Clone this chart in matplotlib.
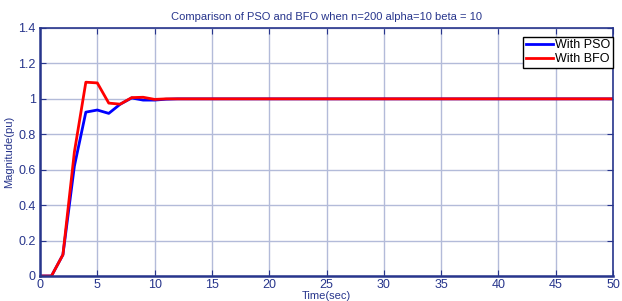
import matplotlib
matplotlib.use("Agg")
import matplotlib.pyplot as plt
import numpy as np

plt.rcParams['font.family'] = ['Liberation Sans', 'DejaVu Sans']

t = np.arange(0, 51)
pso_head = [0, 0, 0.12, 0.62, 0.925, 0.937, 0.918, 0.97, 1.005, 0.993, 0.993, 0.998]
bfo_head = [0, 0, 0.12, 0.70, 1.094, 1.090, 0.976, 0.970, 1.007, 1.009, 0.997, 1.0]
pso = pso_head + [1.0] * (len(t) - len(pso_head))
bfo = bfo_head + [1.0] * (len(t) - len(bfo_head))

axis_col = '#27358c'
grid_col = '#b3bbd9'

fig = plt.figure(figsize=(6.22, 3.01), dpi=100)
ax = fig.add_axes([40 / 622, 25 / 301, 573 / 622, 248 / 301])

ax.plot(t, pso, color='#0000ff', linewidth=2.0, label='With PSO')
ax.plot(t, bfo, color='#ff0000', linewidth=2.0, label='With BFO')

ax.set_xlim(0, 50)
ax.set_ylim(0, 1.4)
ax.set_xticks(np.arange(0, 51, 5))
ax.set_yticks([0, 0.2, 0.4, 0.6, 0.8, 1.0, 1.2, 1.4])
ax.set_yticklabels(['0', '0.2', '0.4', '0.6', '0.8', '1', '1.2', '1.4'])
ax.grid(True, color=grid_col, linewidth=1.0)
ax.set_axisbelow(True)

for s in ax.spines.values():
    s.set_color(axis_col)
    s.set_linewidth(1.2)
ax.spines['bottom'].set_linewidth(1.8)
ax.spines['left'].set_linewidth(1.8)
ax.tick_params(direction='in', top=True, right=True, colors=axis_col,
               labelsize=9, length=4)
ax.tick_params(axis='x', pad=2)
ax.tick_params(axis='y', pad=3)

ax.set_title('Comparison of PSO and BFO when n=200 alpha=10 beta = 10',
             fontsize=8, color=axis_col, pad=6)
ax.set_xlabel('Time(sec)', fontsize=8, color=axis_col, labelpad=0)
ax.set_ylabel('Magnitude(pu)', fontsize=8, color=axis_col, labelpad=3)

leg = ax.legend(loc='upper right', bbox_to_anchor=(1.0, 0.965), fontsize=9,
                fancybox=False, framealpha=1, edgecolor='black',
                borderaxespad=0, handlelength=2.2, handletextpad=0.15,
                borderpad=0.2, labelspacing=0.15)
leg.get_frame().set_linewidth(1.0)

fig.savefig('out.png', dpi=100)
